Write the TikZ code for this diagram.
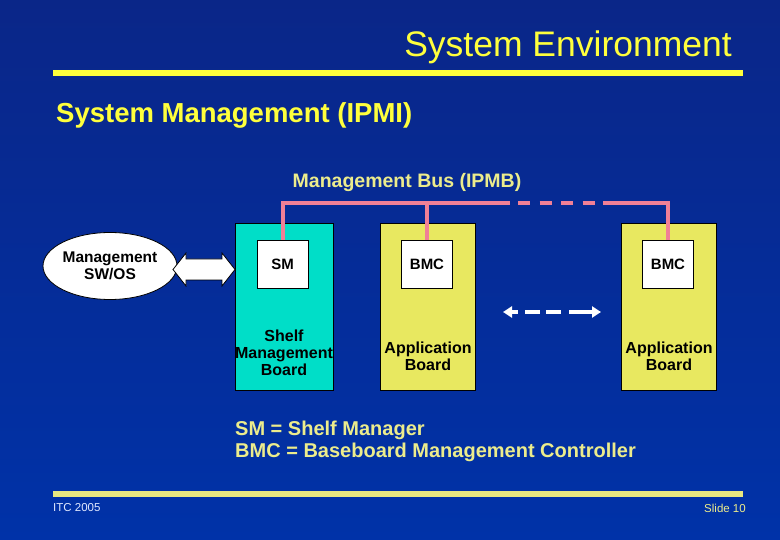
\documentclass[tikz,border=0pt]{standalone}
\usepackage{fontspec}
\setmainfont{Liberation Sans}
\usetikzlibrary{shapes.geometric,arrows.meta}
\definecolor{bgtop}{RGB}{10,38,136}
\definecolor{bgbot}{RGB}{0,50,168}
\definecolor{ttl}{RGB}{255,255,60}
\definecolor{paleyel}{RGB}{236,236,140}
\definecolor{cyanbd}{RGB}{0,222,200}
\definecolor{yelbd}{RGB}{232,232,96}
\definecolor{pinkbus}{RGB}{240,128,150}
\definecolor{footbar}{RGB}{232,232,128}
\definecolor{foottxt}{RGB}{224,232,255}
\tikzset{
  board/.style={draw=black, line width=0.8pt, minimum width=95pt, minimum height=167pt, inner sep=0pt},
  chip/.style={draw=black, line width=0.8pt, fill=white, minimum width=51pt, minimum height=48pt, inner sep=0pt, font=\bfseries\fontsize{15}{17}\selectfont},
  boardtxt/.style={align=center, inner sep=0pt, font=\bfseries\fontsize{16}{17}\selectfont},
  bus/.style={draw=pinkbus, line width=4pt},
}
\begin{document}
\begin{tikzpicture}[x=1pt,y=-1pt]
\shade[top color=bgtop, bottom color=bgbot] (0,0) rectangle (780,540);
\useasboundingbox (0,0) rectangle (780,540);

% title
\node[anchor=base east, inner sep=0pt, text=ttl, font=\fontsize{35.5}{40}\selectfont] (title) at (732,57) {System Environment};
\fill[ttl] (53,70) rectangle (743,76);

\node[anchor=base west, inner sep=0pt, text=ttl, font=\bfseries\fontsize{27.5}{32}\selectfont] (sub) at (56,123) {System Management (IPMI)};

\node[anchor=base, inner sep=0pt, text=paleyel, font=\bfseries\fontsize{19.5}{22}\selectfont] (ipmb) at (407,188) {Management Bus (IPMB)};

% boards
\node[board, fill=cyanbd, minimum width=98pt] (smb) at (284,306.5) {};
\node[board, fill=yelbd] (ab1) at (427.5,306.5) {};
\node[board, fill=yelbd] (ab2) at (668.5,306.5) {};

\node[chip] (sm) at (282.5,264) {SM};
\node[chip] (bmc1) at (427,264) {BMC};
\node[chip] (bmc2) at (668,264) {BMC};

\node[boardtxt] (smbt) at (284,353) {Shelf\\Management\\Board};
\node[boardtxt] (ab1t) at (428,356.5) {Application\\Board};
\node[boardtxt] (ab2t) at (669,356.5) {Application\\Board};

% bus
\coordinate (bl) at (282.5,203.5);
\coordinate (d1) at (510,203.5);
\coordinate (d1b) at (518,203.5);
\coordinate (d2b) at (595,203.5);
\coordinate (d2) at (603,203.5);
\draw[bus] (sm.north) -- (bl) -- (d1);
\draw[bus] (bmc1.north) -- (bmc1.north |- bl);
\draw[bus, dash pattern=on 12pt off 9.5pt] (d1b) -- (d2b);
\draw[bus] (d2) -| (bmc2.north);

% dashed double arrow between boards
\coordinate (dl) at (503,312);
\coordinate (dr) at (601,312);
\draw[white, line width=4pt, dash pattern=on 7pt off 7pt on 15pt off 6pt on 15pt off 8pt on 40pt,
  {Triangle[length=9pt,width=11pt]}-{Triangle[length=9pt,width=11pt]}] (dl) -- (dr);

% management SW/OS
\node[ellipse, draw=black, line width=0.8pt, fill=white, minimum width=126pt, minimum height=67pt, inner sep=0pt,
  align=center, font=\bfseries\fontsize{15.5}{17}\selectfont] (sw) at (110,266) {Management\\SW/OS};

% block double arrow
\draw[black, line width=0.8pt, fill=white]
  (173,269.5) -- (186,253) -- (186,259) -- (222,259) -- (222,253) -- (235,269.5)
  -- (222,286) -- (222,280) -- (186,280) -- (186,286) -- cycle;

% legend
\node[anchor=base west, inner sep=0pt, text=paleyel, align=left, font=\bfseries\fontsize{20}{22}\selectfont] (leg) at (235,457)
  {SM = Shelf Manager\\BMC = Baseboard Management Controller};

% footer
\fill[footbar] (53,491) rectangle (743,497);
\node[anchor=base west, inner sep=0pt, text=foottxt, font=\fontsize{11.5}{13}\selectfont] (itc) at (53,511) {ITC 2005};
\node[anchor=base east, inner sep=0pt, text=paleyel, font=\fontsize{11.5}{13}\selectfont] (slide) at (746,512) {Slide 10};
\end{tikzpicture}
\end{document}
